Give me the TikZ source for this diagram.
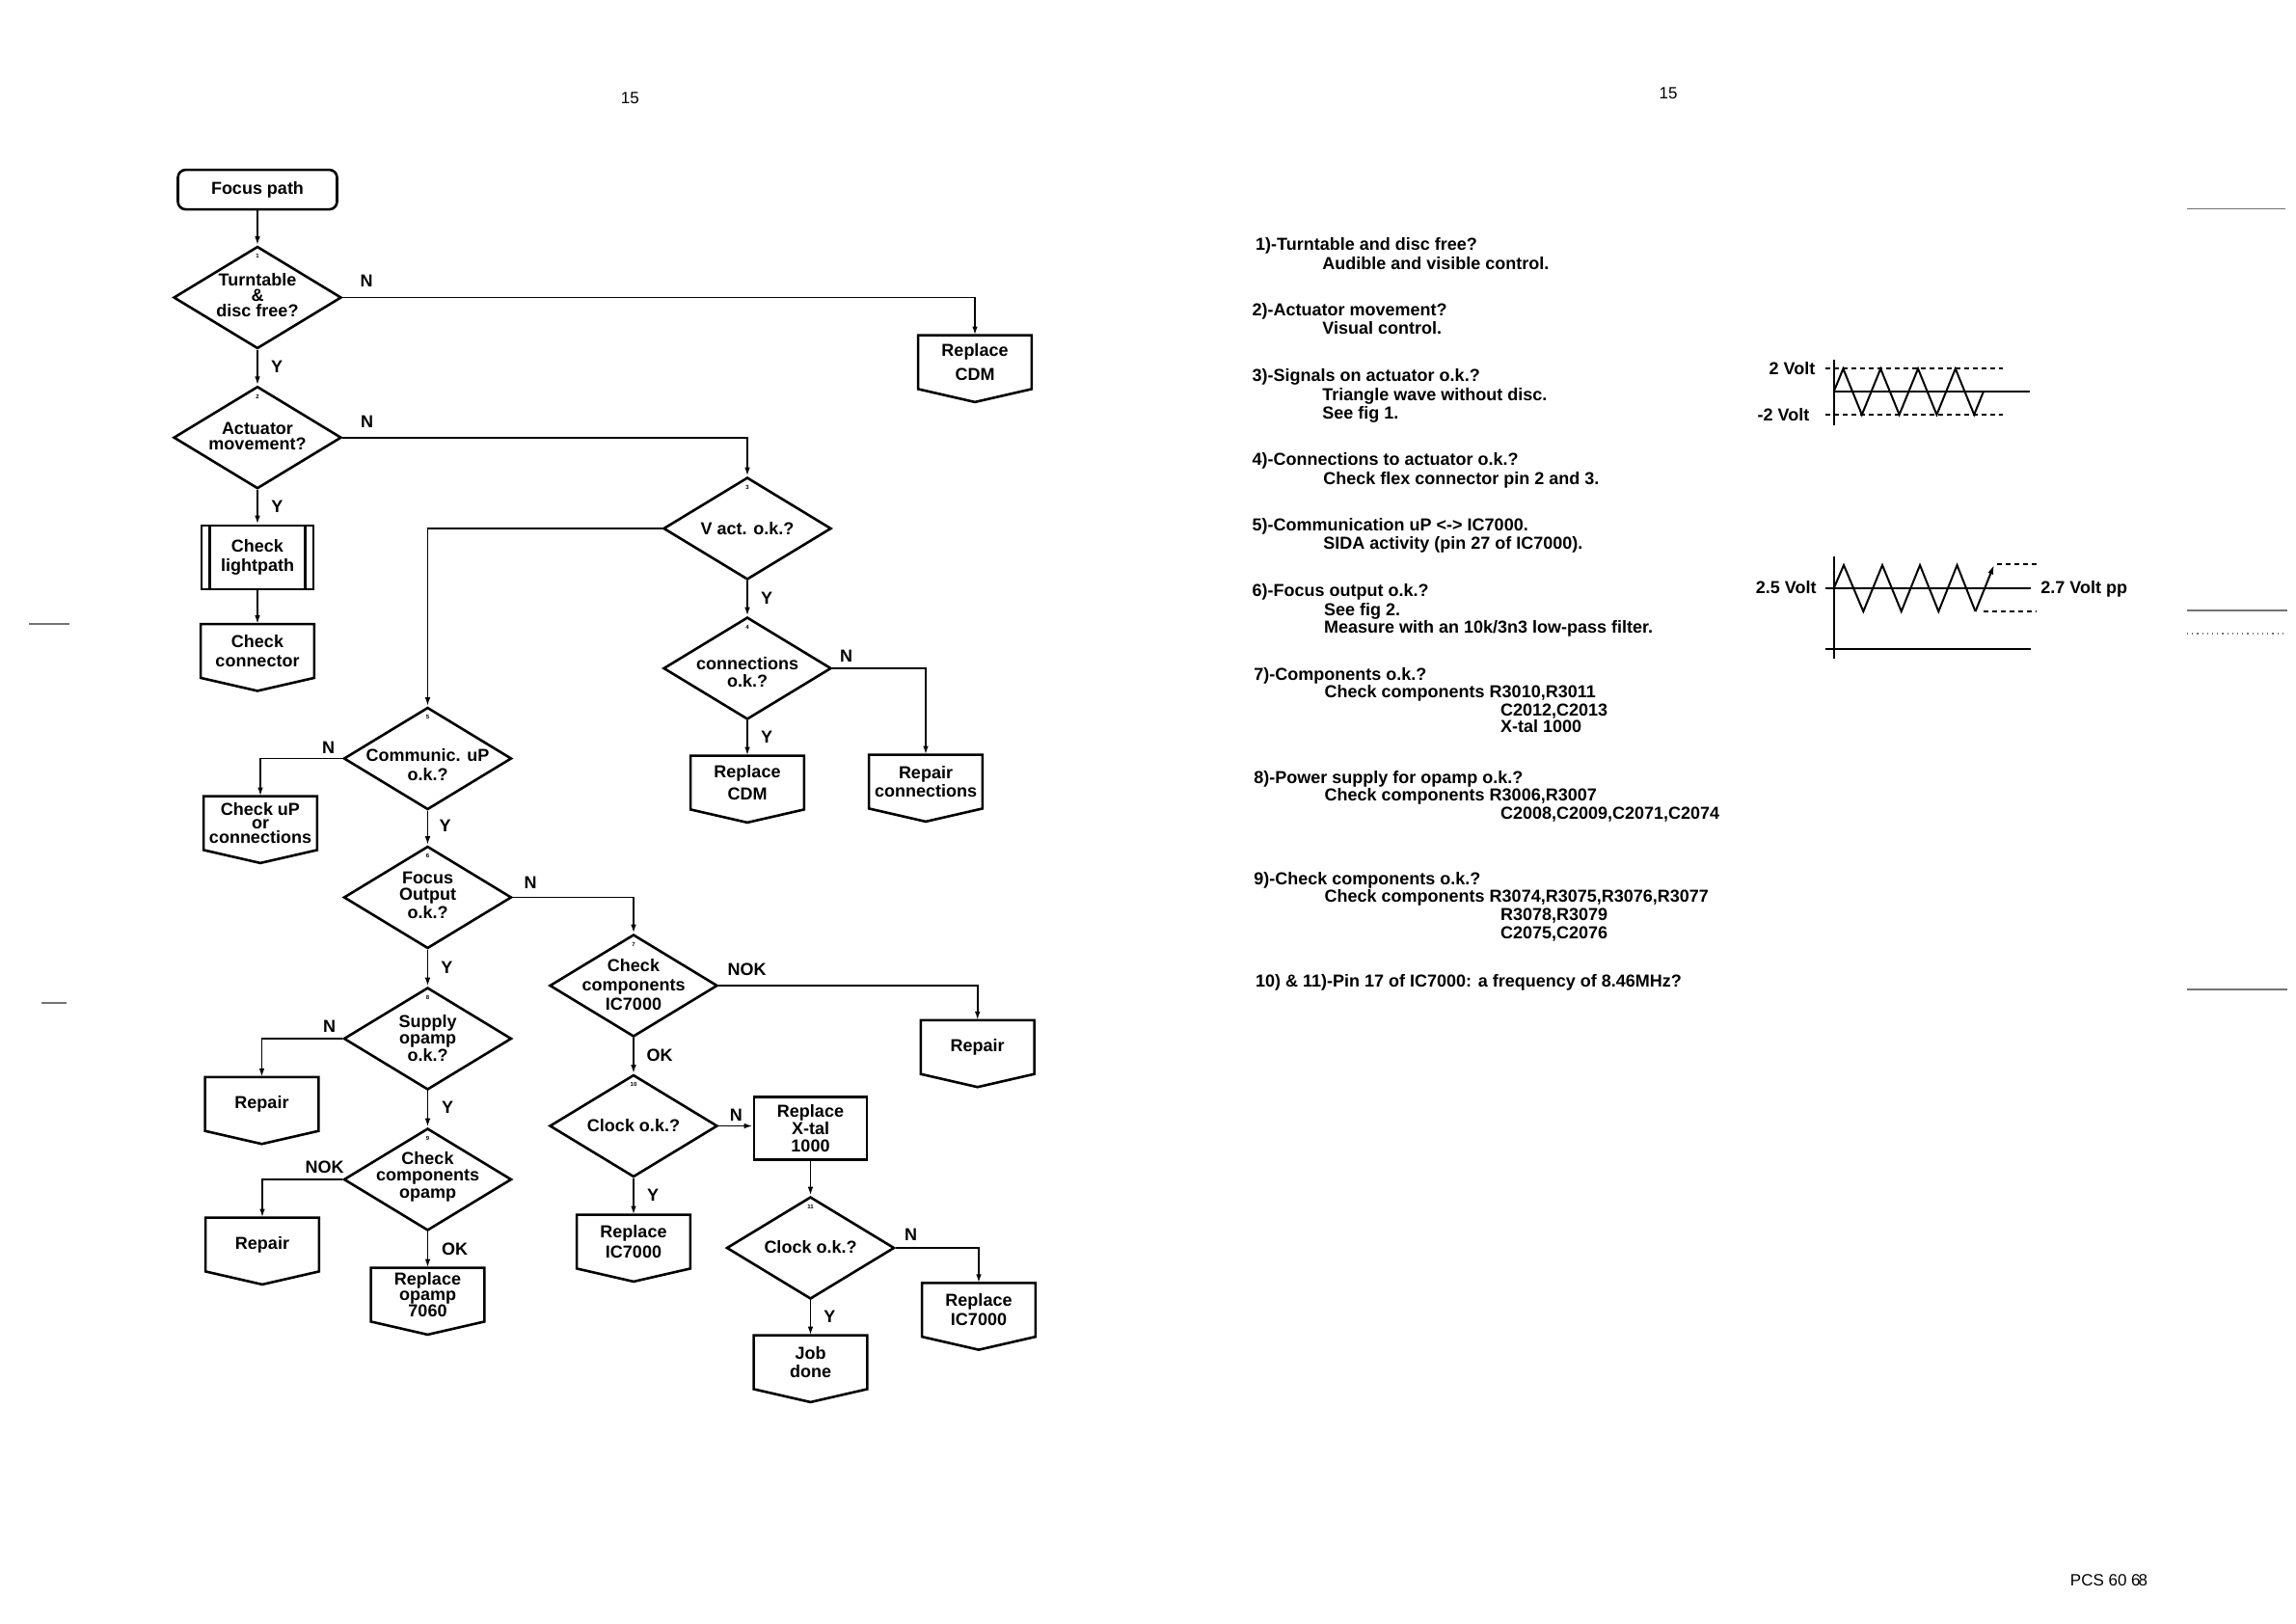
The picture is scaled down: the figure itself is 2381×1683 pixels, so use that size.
\documentclass[tikz,border=0pt]{standalone}
\usepackage{fontspec}
\setmainfont{Liberation Sans}
\usetikzlibrary{shapes.geometric,arrows.meta}
\newcommand\opout[1]{\draw[boxline] (#1.north west) -- (#1.north east) -- (#1.south east) -- ([yshift=-6.75pt]#1.south) -- (#1.south west) -- cycle;}
\tikzset{
  boxline/.style={line width=1.3pt, line join=miter},
  dia/.style={draw, line width=1.3pt, shape=diamond, minimum width=87pt, minimum height=53pt, inner sep=0pt},
  opbox/.style={rectangle, minimum width=58.5pt, minimum height=27.5pt, inner sep=0pt, align=center, font=\fontsize{9}{#1}\selectfont\bfseries},
  opbox/.default=10,
  txt/.style={inner sep=0pt, align=center, font=\fontsize{9}{#1}\selectfont\bfseries},
  txt/.default=10,
  yn/.style={inner sep=0pt, font=\fontsize{9}{10}\selectfont\bfseries},
  num/.style={inner sep=0pt, font=\fontsize{3}{3}\selectfont\bfseries},
  arr/.style={line width=0.9pt, -{Latex[length=4.5pt,width=2.8pt]}},
  note/.style={inner sep=0pt, anchor=base west, font=\fontsize{9}{10}\selectfont\bfseries},
  wave/.style={line width=1pt},
  dsh/.style={line width=0.9pt, dash pattern=on 2.5pt off 2pt},
  pg/.style={inner sep=0pt, font=\fontsize{8.5}{10}\selectfont},
  edge mark/.style={line width=0.6pt, black!55},
}
\begin{document}
\begin{tikzpicture}[x=0.5pt, y=-0.5pt]
\useasboundingbox (0,0) rectangle (2381,1683);
\fill[white] (0,0) rectangle (2381,1683);

% page numbers
\node[pg] (pn1) at (653.3,101.7) {15};
\node[pg] (pn2) at (1730,96.7) {15};
\node[pg] (pcs) at (2187,1638.3) {PCS 60 6\kern-1pt 8};

% scan edge marks
\draw[edge mark] (2268,216.4) -- (2370,216.4);
\draw[edge mark, line width=0.9pt] (2268,633) -- (2372,633);
\draw[edge mark, dotted] (2268,657) -- (2372,657);
\draw[edge mark] (2268,1026) -- (2372,1026);
\draw[edge mark, line width=0.9pt] (30,647) -- (72,647);
\draw[edge mark, line width=0.9pt] (43,1040) -- (69,1040);

% ---------- flowchart nodes ----------
\node[draw, line width=1.3pt, rounded corners=4pt, minimum width=82.5pt, minimum height=20.5pt, inner sep=0pt, font=\fontsize{9}{10}\selectfont\bfseries] (fp) at (267,196.6) {Focus path};

\node[dia] (d1) at (267,308.5) {};
\node[dia] (d2) at (267,453.7) {};
\node[dia] (d3) at (775,548) {};
\node[dia] (d4) at (775,693) {};
\node[dia] (d5) at (443.5,786.5) {};
\node[dia] (d6) at (443.5,930.5) {};
\node[dia] (d7) at (657,1022) {};
\node[dia] (d8) at (443.5,1077) {};
\node[dia] (d9) at (443.5,1223) {};
\node[dia] (d10) at (657,1167.5) {};
\node[dia] (d11) at (840.5,1294) {};

% diamond numbers
\foreach \d/\n in {d1/1,d2/2,d3/3,d4/4,d5/5,d6/6,d7/7,d8/8,d9/9,d10/10,d11/11}
  {\node[num] (n\d) at ([yshift=-5.75pt]\d.north) {\n};}

% diamond texts
\node[txt=8] (t1) at (267,306.5) {Turntable\\\&\\disc free?};
\node[txt=8] (t2) at (267,452) {Actuator\\movement?};
\node[txt] (t3) at (775,548) {V act. o.k.?};
\node[txt=8.7] (t4) at (775,697) {connections\\o.k.?};
\node[txt=10] (t5) at (443.5,793.3) {Communic. uP\\o.k.?};
\node[txt=8.3] (t6) at (443.5,928.3) {Focus\\Output\\o.k.?};
\node[txt=9.8] (t7) at (657,1021) {Check\\components\\IC7000};
\node[txt=8.3] (t8) at (443.5,1076.7) {Supply\\opamp\\o.k.?};
\node[txt=8.7] (t9) at (443.5,1220) {Check\\components\\opamp};
\node[txt] (t10) at (657,1167.3) {Clock o.k.?};
\node[txt] (t11) at (840.5,1292.7) {Clock o.k.?};

% process boxes
\node[draw, line width=1.3pt, rectangle, minimum width=58pt, minimum height=33pt, inner sep=0pt, align=center, font=\fontsize{9}{9.7}\selectfont\bfseries] (lp) at (267,578) {Check\\lightpath};
\draw[line width=1.3pt] ([xshift=5pt]lp.north west) -- ([xshift=5pt]lp.south west);
\draw[line width=1.3pt] ([xshift=-5pt]lp.north east) -- ([xshift=-5pt]lp.south east);
\node[draw, line width=1.3pt, rectangle, minimum width=58.5pt, minimum height=32.7pt, inner sep=0pt, align=center, font=\fontsize{9}{9}\selectfont\bfseries] (xtal) at (840.5,1170) {Replace\\X-tal\\1000};

% off-page boxes
\node[opbox=12.2] (rcdm1) at (1011,375.5) {Replace\\CDM};
\node[opbox=9.7] (cc) at (267,675) {Check\\connector};
\node[opbox=11.3] (rcdm2) at (775,811.5) {Replace\\CDM};
\node[opbox=9.5] (rconn) at (960,810.5) {Repair\\connections};
\node[opbox=7.3] (chkup) at (270,853.5) {Check uP\\or\\connections};
\node[opbox] (rep1) at (271.5,1144.8) {Repair};
\node[opbox] (rep2) at (272,1290.5) {Repair};
\node[opbox=8.3] (ropamp) at (443.5,1342.5) {Replace\\opamp\\7060};
\node[opbox] (rep3) at (1013.7,1085.8) {Repair};
\node[opbox=10.3] (ric1) at (657,1287.5) {Replace\\IC7000};
\node[opbox=10.3] (ric2) at (1015,1358.2) {Replace\\IC7000};
\node[opbox=9.7] (job) at (840.5,1412.5) {Job\\done};
\foreach \b in {rcdm1,cc,rcdm2,rconn,chkup,rep1,rep2,ropamp,rep3,ric1,ric2,job}
  {\opout{\b}}

% ---------- connectors ----------
\draw[arr] (fp.south) -- (d1.north);
\draw[arr] (d1.south) -- (d2.north);
\draw[arr] (d1.east) -| (rcdm1.north);
\draw[arr] (d2.south) -- (lp.north);
\draw[arr] (lp.south) -- (cc.north);
\draw[arr] (d2.east) -| (d3.north);
\draw[arr] (d3.south) -- (d4.north);
\draw[arr] (d3.west) -| (d5.north);
\draw[arr] (d4.south) -- (rcdm2.north);
\draw[arr] (d4.east) -| (rconn.north);
\draw[arr] (d5.west) -| (chkup.north);
\draw[arr] (d5.south) -- (d6.north);
\draw[arr] (d6.east) -| (d7.north);
\draw[arr] (d6.south) -- (d8.north);
\draw[arr] (d8.west) -| (rep1.north);
\draw[arr] (d8.south) -- (d9.north);
\draw[arr] (d9.west) -| (rep2.north);
\draw[arr] (d9.south) -- (ropamp.north);
\draw[arr] (d7.east) -| (rep3.north);
\draw[arr] (d7.south) -- (d10.north);
\draw[arr] (d10.east) -- (d10.east -| xtal.west);
\draw[arr] (d10.south) -- (ric1.north);
\draw[arr] (xtal.south) -- (d11.north);
\draw[arr] (d11.east) -| (ric2.north);
\draw[arr] (d11.south) -- (job.north);

% ---------- branch labels ----------
\node[yn] (l1n) at (380,291.4) {N};
\node[yn] (l1y) at (287,380.4) {Y};
\node[yn] (l2n) at (380.7,437.5) {N};
\node[yn] (l2y) at (287.3,525) {Y};
\node[yn] (l3y) at (795,620) {Y};
\node[yn] (l4n) at (877.7,680) {N};
\node[yn] (l4y) at (795,764) {Y};
\node[yn] (l5n) at (340.7,775) {N};
\node[yn] (l5y) at (461.7,856.7) {Y};
\node[yn] (l6n) at (550,915) {N};
\node[yn] (l6y) at (463.3,1003.3) {Y};
\node[yn] (l8n) at (341.7,1064.3) {N};
\node[yn] (l8y) at (464,1148.3) {Y};
\node[yn] (l9n) at (336.7,1210) {NOK};
\node[yn] (l9y) at (471.7,1295) {OK};
\node[yn] (l7n) at (774.5,1005.7) {NOK};
\node[yn] (l7y) at (684,1094) {OK};
\node[yn] (l10n) at (763.3,1156.7) {N};
\node[yn] (l10y) at (677,1239.3) {Y};
\node[yn] (l11n) at (944.6,1280) {N};
\node[yn] (l11y) at (860.4,1365) {Y};

% ---------- notes ----------
\node[note] (r1) at (1301.7,259.8) {1)-Turntable and disc free?};
\node[note] (r1b) at (1371,279.2) {Audible and visible control.};
\node[note] (r2) at (1298.3,327.2) {2)-Actuator movement?};
\node[note] (r2b) at (1371,346.5) {Visual control.};
\node[note] (r3) at (1298.3,395.8) {3)-Signals on actuator o.k.?};
\node[note] (r3b) at (1371,415.5) {Triangle wave without disc.};
\node[note] (r3c) at (1371,434.8) {See fig 1.};
\node[note] (r4) at (1298.3,482.5) {4)-Connections to actuator o.k.?};
\node[note] (r4b) at (1372,502.2) {Check flex connector pin 2 and 3.};
\node[note] (r5) at (1298.3,550.5) {5)-Communication uP <-> IC7000.};
\node[note] (r5b) at (1372,569.8) {SIDA activity (pin 27 of IC7000).};
\node[note] (r6) at (1298.3,618.2) {6)-Focus output o.k.?};
\node[note] (r6b) at (1372.7,638.2) {See fig 2.};
\node[note] (r6c) at (1372.7,656.5) {Measure with an 10k/3n3 low-pass filter.};
\node[note] (r7) at (1300,705.8) {7)-Components o.k.?};
\node[note] (r7b) at (1373.3,723.8) {Check components R3010,R3011};
\node[note] (r7c) at (1555.7,742.5) {C2012,C2013};
\node[note] (r7d) at (1555.7,759.8) {X-tal 1000};
\node[note] (r8) at (1300,812.2) {8)-Power supply for opamp o.k.?};
\node[note] (r8b) at (1373.3,830.5) {Check components R3006,R3007};
\node[note] (r8c) at (1555.7,849.2) {C2008,C2009,C2071,C2074};
\node[note] (r9) at (1300,917.2) {9)-Check components o.k.?};
\node[note] (r9b) at (1373.3,935.8) {Check components R3074,R3075,R3076,R3077};
\node[note] (r9c) at (1555.7,954.8) {R3078,R3079};
\node[note] (r9d) at (1555.7,973.8) {C2075,C2076};
\node[note] (r10) at (1301.7,1023.2) {10) \& 11)-Pin 17 of IC7000: a frequency of 8.46MHz?};

% ---------- fig 1 ----------
\node[note, anchor=base east] (f1a) at (1882.7,388.8) {2 Volt};
\node[note, anchor=base east] (f1b) at (1876.7,436.5) {-2 Volt};
\draw[wave] (1901.7,373.3) -- (1901.7,440.7);
\draw[wave] (1901.7,406) -- (2105,406);
\draw[dsh] (1892.7,382.3) -- (2076.7,382.3);
\draw[dsh] (1892.7,430) -- (2076.7,430);
\draw[wave, line join=miter] (1901.7,406) -- (1911.4,382.3) -- (1930.8,430) -- (1950.2,382.3) -- (1969.6,430) -- (1989,382.3) -- (2008.4,430) -- (2027.8,382.3) -- (2047.2,430) -- (2056.9,406);

% ---------- fig 2 ----------
\node[note, anchor=base east] (f2a) at (1884,615.8) {2.5 Volt};
\node[note] (f2b) at (2116,615.8) {2.7 Volt pp};
\draw[wave] (1901.7,576.7) -- (1901.7,683.3);
\draw[wave] (1892.7,610) -- (2106,610);
\draw[wave] (1892.7,672.7) -- (2106,672.7);
\draw[wave, line join=miter] (1901.7,610) -- (1912,586) -- (1932.3,634) -- (1952,586) -- (1971.7,634) -- (1991,586) -- (2010.3,634) -- (2029.5,586) -- (2048.5,634);
\draw[wave, -{Latex[length=5pt,width=3pt]}] (2048.5,634) -- (2068,585.5);
\draw[dsh] (2071,585.3) -- (2111.7,585.3);
\draw[dsh] (2056.7,634) -- (2111.7,634);
\end{tikzpicture}
\end{document}
